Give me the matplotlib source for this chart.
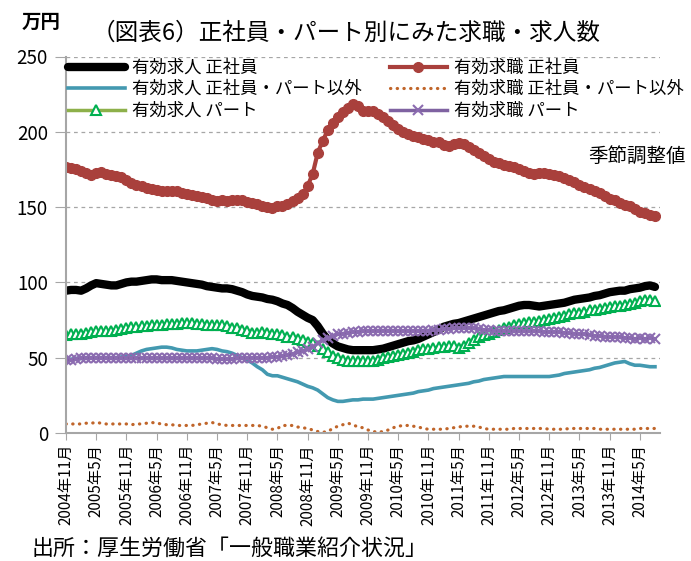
import matplotlib
matplotlib.use("Agg")
import matplotlib.pyplot as plt

plt.rcParams['font.family'] = ['Noto Sans CJK JP', 'DejaVu Sans']

# -------------------------------------------------------
# Datos (万人, mensual, 2004年11月 - 2014年8月, 季節調整値)
# -------------------------------------------------------
kyujin_seishain = [
    94.5, 95, 95, 94.5, 96, 98, 99.5, 99, 98.5, 98, 98, 99, 100, 100.5, 100.5, 101, 101.5, 102, 102, 101.5,
    101.5, 101.5, 101, 100.5, 100, 99.5, 99, 98.5, 97.5, 97, 96.5, 96, 96, 95.5, 94.5, 93.5, 92, 91, 90.5, 90,
    89, 88.5, 87.5, 86, 85, 83, 80.5, 78.5, 76.5, 75, 71, 66, 62, 59.5, 57.5, 56.5, 55.5, 55, 55, 55,
    55, 55, 55.5, 56, 57, 58, 59, 60, 61, 61.5, 62.5, 64, 65.5, 67, 68.5, 70.5, 71.5, 72.5, 73, 74,
    75, 76, 77, 78, 79, 80, 81, 81.5, 82.5, 83.5, 84.5, 85, 85, 84.5, 84, 84.5, 85, 85.5, 86, 86.5,
    87.5, 88.5, 89, 89.5, 90, 91, 91.5, 92.5, 93.5, 94, 94.5, 94.5, 95.5, 96, 96.5, 97.5, 98, 97,
]
kyushoku_seishain = [
    176.5, 176, 175.5, 174, 172.5, 171, 172.5, 173, 172, 171, 170.5, 170, 168, 166, 165, 164, 163, 162, 161.5, 161,
    160.5, 161, 160.5, 159.5, 159, 158, 157.5, 157, 156, 154.5, 154, 154.5, 154, 154.5, 155, 154.5, 153.5, 153, 152, 151,
    150, 149.5, 150.5, 151, 152, 154, 156, 158.5, 164, 172, 186, 194, 201, 206, 210, 213, 216, 218.5, 217, 214,
    213.5, 213.5, 212, 209.5, 207, 204.5, 202, 200, 198.5, 197.5, 196.5, 195.5, 194.5, 193.5, 193, 191.5, 190.5, 192, 192.5, 192,
    190, 188, 186, 184, 182, 180, 179, 178, 177.5, 176.5, 175.5, 174, 172.5, 172, 172.5, 172.5, 172, 171.5, 170.5, 169.5,
    168, 166.5, 165, 163.5, 162, 160.5, 159.5, 157.5, 155.5, 154.5, 153, 151.5, 150.5, 148.5, 147, 146, 145, 144,
]
kyujin_igai = [
    49, 49, 49.5, 49.5, 50, 50, 50, 50, 50, 50, 50, 50.5, 51, 51.5, 53, 54.5, 55.5, 56, 56.5, 57,
    57, 56.5, 55.5, 55, 54.5, 54.5, 54.5, 55, 55.5, 56, 55.5, 54.5, 54, 53, 51.5, 50, 48.5, 46.5, 44, 42,
    39, 38, 38, 37, 36, 35, 34, 32.5, 31, 30, 28.5, 26, 23.5, 22, 21, 21, 21.5, 22, 22, 22.5,
    22.5, 22.5, 23, 23.5, 24, 24.5, 25, 25.5, 26, 26.5, 27.5, 28, 28.5, 29.5, 30, 30.5, 31, 31.5, 32, 32.5,
    33, 34, 34.5, 35.5, 36, 36.5, 37, 37.5, 37.5, 37.5, 37.5, 37.5, 37.5, 37.5, 37.5, 37.5, 37.5, 38, 38.5, 39.5,
    40, 40.5, 41, 41.5, 42, 43, 43.5, 44.5, 45.5, 46.5, 47, 47.5, 46, 45, 45, 44.5, 44, 44,
]
kyushoku_igai = [
    6, 6, 6, 6, 6.5, 6.5, 7, 6.5, 6, 6, 6, 6, 6, 5.5, 6, 6, 6.5, 7, 6.5, 6,
    5.5, 5.5, 5, 5, 5, 5, 5.5, 6, 6.5, 7, 6, 5.5, 5, 5, 5, 5, 5, 5, 5, 4.5,
    3.5, 2.5, 3, 5, 5, 5, 4, 3.5, 3, 2, 1, 0.5, 1, 3, 4.5, 5.5, 6.5, 5.5, 4, 3.5,
    2, 1, 0.5, 1, 2, 3.5, 4.5, 5, 5, 4.5, 4, 3, 2.5, 2.5, 2.5, 2.5, 3, 3.5, 4, 4.5,
    4.5, 4.5, 4, 3, 2.5, 2.5, 2.5, 2.5, 2.5, 3, 3, 3, 3, 3, 3, 3, 2.5, 2.5, 2.5, 2.5,
    3, 3, 3, 3, 3, 3, 2.5, 2.5, 2.5, 2.5, 2.5, 2.5, 2.5, 2.5, 3, 3, 3, 3,
]
kyujin_part = [
    65, 65.5, 66, 66, 66.5, 67, 67.5, 67.5, 68, 68, 68.5, 69, 70, 70.5, 70.5, 71, 71, 71.5, 71.5, 72,
    72.5, 72.5, 72.5, 73, 73, 73, 72.5, 72.5, 72, 72, 71.5, 71.5, 71, 70, 69.5, 68.5, 67.5, 66.5, 66.5, 67,
    66.5, 66, 65.5, 65, 64, 63.5, 62.5, 61.5, 60.5, 59.5, 58, 56, 53.5, 51, 49.5, 48.5, 48, 47.5, 47.5, 48,
    48, 48, 48.5, 49.5, 50.5, 51, 52, 52.5, 53, 54, 55, 55.5, 56, 56.5, 57, 57, 57.5, 58, 56.5, 58,
    60, 62, 63.5, 65, 66, 67, 68.5, 69.5, 70.5, 71.5, 72.5, 73, 73.5, 74, 74.5, 75, 76, 76.5, 77, 78,
    79, 79.5, 80, 80.5, 81.5, 82, 82.5, 83, 83.5, 84, 84.5, 85, 85.5, 86.5, 87.5, 88, 88, 87.5,
]
kyushoku_part = [
    48.5, 48.5, 49, 49.5, 49.5, 50, 50, 50, 50, 49.5, 49.5, 49.5, 49.5, 49.5, 49.5, 49.5, 49.5, 49.5, 49.5, 49.5,
    49.5, 49.5, 49.5, 49.5, 49.5, 49.5, 49.5, 49.5, 49.5, 49.5, 49, 49, 49, 49, 49.5, 49.5, 49.5, 50, 50, 50,
    50, 50.5, 50.5, 51, 51.5, 52.5, 53.5, 54.5, 55.5, 57, 59.5, 61.5, 63, 64.5, 65.5, 66, 66.5, 67, 67, 67.5,
    67.5, 67.5, 68, 68, 68, 68, 67.5, 67.5, 67.5, 67.5, 67.5, 68, 68, 68.5, 68.5, 69, 69, 69.5, 69.5, 70,
    70, 69.5, 69, 68.5, 68.5, 68, 68, 67.5, 67.5, 67.5, 67.5, 67.5, 67.5, 67.5, 67.5, 67, 67, 67, 67, 66.5,
    66.5, 66, 65.5, 65.5, 65, 64.5, 64.5, 64, 64, 63.5, 63.5, 63, 63, 62.5, 63, 62.5, 63, 62.5,
]

etiquetas_x = [
    "2004年11月", "2005年5月", "2005年11月", "2006年5月", "2006年11月", "2007年5月", "2007年11月",
    "2008年5月", "2008年11月", "2009年5月", "2009年11月", "2010年5月", "2010年11月", "2011年5月",
    "2011年11月", "2012年5月", "2012年11月", "2013年5月", "2013年11月", "2014年5月",
]

GRIS = "#A6A6A6"

# -------------------------------------------------------
# Figura
# -------------------------------------------------------
fig = plt.figure(figsize=(6.91, 5.61), dpi=100)
ax = fig.add_axes([66 / 691, 1 - 433 / 561, (660 - 66) / 691, (433 - 56.5) / 561])

x = list(range(len(kyujin_seishain)))

l1, = ax.plot(x, kyujin_seishain, color="black", lw=6, solid_capstyle="round",
              label="有効求人 正社員")
l2, = ax.plot(x, kyushoku_seishain, color="#A9403C", lw=3, marker="o", markersize=7,
              label="有効求職 正社員")
l3, = ax.plot(x, kyujin_igai, color="#4399B0", lw=2.6, label="有効求人 正社員・パート以外")
l4, = ax.plot(x, kyushoku_igai, color="#C0652A", lw=2.3, linestyle=(0, (0.1, 2.0)),
              dash_capstyle="round", label="有効求職 正社員・パート以外")
l5, = ax.plot(x, kyujin_part, color="#8DB04A", lw=2.5, marker="^", markersize=6.5,
              markerfacecolor="white", markeredgecolor="#00B050", markeredgewidth=1.5,
              label="有効求人 パート")
l6, = ax.plot(x, kyushoku_part, color="#7F62A1", lw=2.5, marker="x", markersize=6.5,
              markeredgecolor="#8B6BB0", markeredgewidth=1.5, label="有効求職 パート")

ax.set_xlim(0, len(x))
ax.set_ylim(0, 250)
ax.set_yticks([0, 50, 100, 150, 200, 250])
ax.set_xticks(range(0, len(x), 6))
ax.set_xticklabels(etiquetas_x, rotation=90, fontsize=11)
ax.tick_params(axis="y", labelsize=13.5, length=8, color=GRIS, pad=5)
ax.tick_params(axis="x", length=5, color=GRIS, pad=3)

ax.grid(True, axis="y", color=GRIS, linestyle=(0, (3, 3)), lw=0.9)
ax.set_axisbelow(True)
for lado in ["top", "right"]:
    ax.spines[lado].set_visible(False)
for lado in ["left", "bottom"]:
    ax.spines[lado].set_color(GRIS)
    ax.spines[lado].set_linewidth(1.5)

ax.legend(handles=[l1, l3, l5, l2, l4, l6], ncol=2, frameon=False, fontsize=12.5,
          loc="upper left", bbox_to_anchor=(66 / 691, 1 - 57 / 561),
          bbox_transform=fig.transFigure, handlelength=3.3, handletextpad=0.4,
          columnspacing=1.6, labelspacing=0.2, borderaxespad=0, borderpad=0.1)

fig.text(41 / 691, 1 - 22 / 561, "万円", fontsize=14, fontweight="bold", ha="center", va="center")
fig.text(346 / 691, 1 - 33 / 561, "（図表6）正社員・パート別にみた求職・求人数",
         fontsize=17, ha="center", va="center")
fig.text(588 / 691, 1 - 156 / 561, "季節調整値", fontsize=14, ha="left", va="center")
fig.text(32 / 691, 1 - 549 / 561, "出所：厚生労働省「一般職業紹介状況」",
         fontsize=15.8, ha="left", va="center")

fig.savefig("out.png", dpi=100)
